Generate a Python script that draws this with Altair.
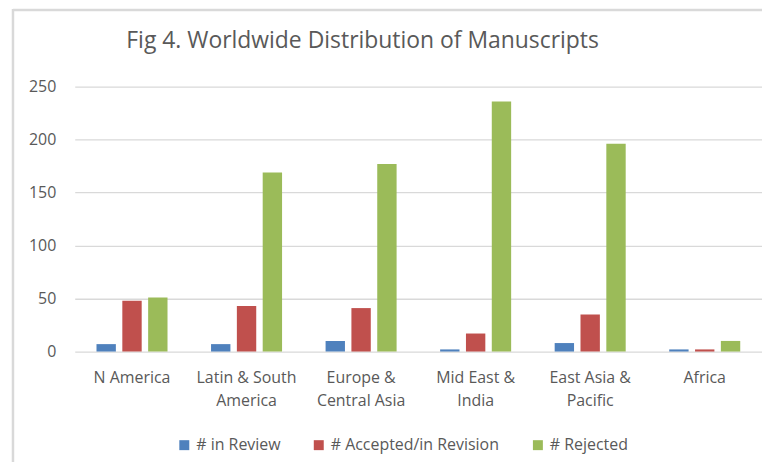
import altair as alt
import pandas as pd

regions = ["N America", "Latin & South America", "Europe & Central Asia",
           "Mid East & India", "East Asia & Pacific", "Africa"]
region_labels = ["N America", "Latin & South|America", "Europe &|Central Asia",
                 "Mid East  &|India", "East Asia &|Pacific", "Africa"]
series = ["# in Review", "# Accepted/in Revision", "# Rejected"]
in_review = [7, 7, 10, 2, 8, 2]
accepted = [48, 43, 41, 17, 35, 2]
rejected = [51, 169, 177, 236, 196, 10]
colors = ["#4F81BD", "#C0504D", "#9BBB59"]
y_ticks = [0, 50, 100, 150, 200, 250]
title_text = ["Fig 4. Worldwide Distribution of Manuscripts"]

rows = []
for i, r in enumerate(regions):
    for s, vals in zip(series, [in_review, accepted, rejected]):
        rows.append({"region": region_labels[i], "series": s, "value": vals[i]})
df = pd.DataFrame(rows)
one = pd.DataFrame({"t": title_text})

FONT = "Open Sans"
GREY = "#595959"

bars = alt.Chart(df).mark_bar().encode(
    x=alt.X("region:N", sort=region_labels, title=None,
            scale=alt.Scale(paddingInner=0.38, paddingOuter=0.19),
            axis=alt.Axis(labelExpr="split(datum.label, '|')", labelAngle=0,
                          labelFontSize=16, labelColor=GREY, labelFont=FONT,
                          labelPadding=18, labelLineHeight=23, ticks=False,
                          domain=False, grid=False)),
    xOffset=alt.XOffset("series:N", sort=series,
                        scale=alt.Scale(paddingInner=0.25, paddingOuter=0)),
    y=alt.Y("value:Q", title=None,
            scale=alt.Scale(domain=[0, 250], nice=False),
            axis=alt.Axis(values=y_ticks, labelFontSize=16, labelColor=GREY,
                          labelFont=FONT, labelPadding=19, ticks=False, tickSize=0,
                          domain=False, grid=True, gridColor="#d9d9d9", gridWidth=1.3)),
    color=alt.Color("series:N", sort=series,
                    scale=alt.Scale(domain=series, range=colors),
                    legend=alt.Legend(title=None, orient="none", direction="horizontal",
                                      legendX=102, legendY=352, symbolType="square",
                                      symbolSize=100, symbolStrokeWidth=0,
                                      labelFontSize=16, labelColor=GREY, labelFont=FONT,
                                      labelLimit=400, columnPadding=30, labelOffset=4)),
)

title = alt.Chart(one).mark_text(
    font=FONT, fontSize=23, color=GREY, align="center", baseline="alphabetic"
).encode(x=alt.value(289), y=alt.value(-39), text="t:N")

left_border = alt.Chart(one).mark_rule(color="#d9d9d9", strokeWidth=2.5).encode(
    x=alt.value(-62), y=alt.value(-78), y2=alt.value(400)
)
top_border = alt.Chart(one).mark_rule(color="#d9d9d9", strokeWidth=2.5).encode(
    x=alt.value(-62), x2=alt.value(720), y=alt.value(-77)
)

chart = alt.layer(bars, title, left_border, top_border).properties(
    width=690, height=266,
    autosize=alt.AutoSizeParams(type="none"),
    padding={"left": 67, "top": 78, "right": 0, "bottom": 110},
).configure_view(stroke=None)

chart.save("out.html", embed_options={"renderer": "svg", "actions": False})
